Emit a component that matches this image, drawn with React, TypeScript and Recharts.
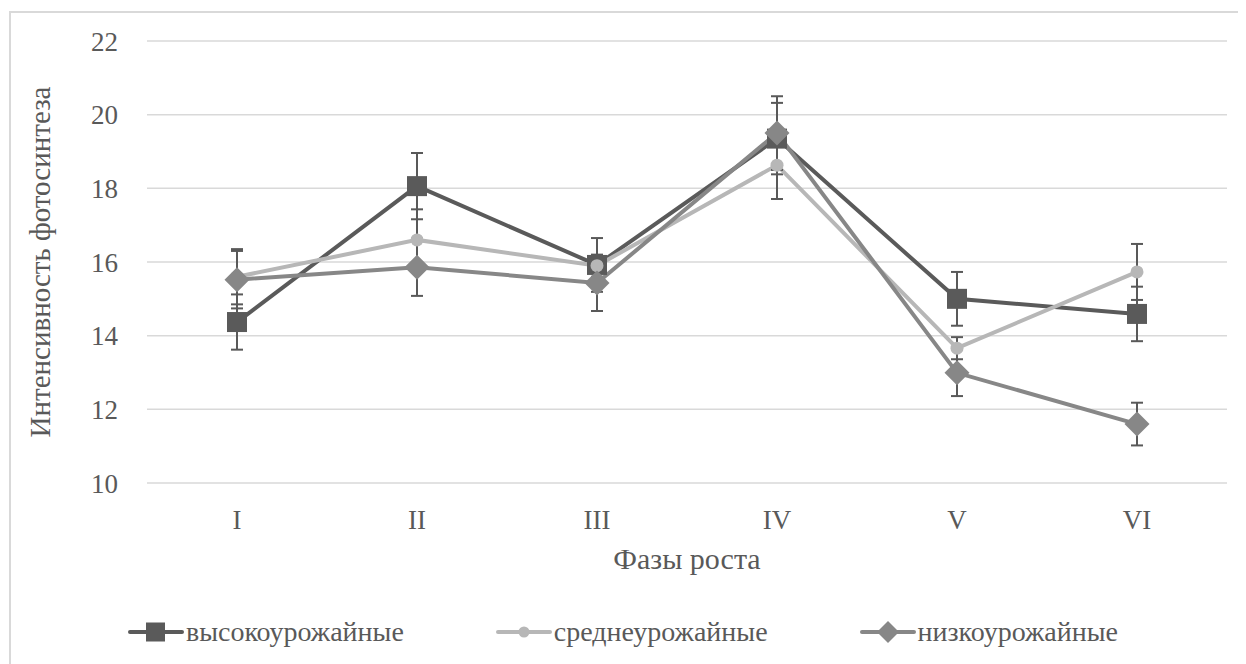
import React from "react";
import { LineChart, Line, XAxis, YAxis, CartesianGrid, ErrorBar, Legend } from "recharts";

// growth phases on the x axis
const phases = ["I", "II", "III", "IV", "V", "VI"];

// photosynthesis intensity per group
const highYield = [14.37, 18.06, 15.92, 19.35, 15.0, 14.59];
const midYield = [15.6, 16.6, 15.9, 18.63, 13.66, 15.73];
const lowYield = [15.52, 15.86, 15.43, 19.5, 12.99, 11.6];

// error bar half-lengths
const highErr = [0.75, 0.9, 0.73, 0.97, 0.73, 0.74];
const midErr = [0.75, 0.83, 0.3, 0.92, 0.3, 0.76];
const lowErr = [0.78, 0.78, 0.76, 1.0, 0.63, 0.58];

const seriesNames = ["высокоурожайные", "среднеурожайные", "низкоурожайные"];
const yTicks = [10, 12, 14, 16, 18, 20, 22];

const HIGH = "#5a5a5a";
const MID = "#b7b7b7";
const LOW = "#878787";
const TEXT = "#595959";
const FONT = "'Liberation Serif', serif";

const data = phases.map((phase, i) => ({
  phase,
  high: highYield[i],
  highErr: highErr[i],
  mid: midYield[i],
  midErr: midErr[i],
  low: lowYield[i],
  lowErr: lowErr[i],
}));

const SquareDot = (props: any) => {
  const { cx, cy, index } = props;
  if (cx == null || cy == null) return null;
  return <rect key={`sq-${index}`} x={cx - 10} y={cy - 10} width={20} height={20} fill={HIGH} />;
};

const CircleDot = (props: any) => {
  const { cx, cy, index } = props;
  if (cx == null || cy == null) return null;
  return <circle key={`ci-${index}`} cx={cx} cy={cy} r={6.5} fill={MID} />;
};

const DiamondDot = (props: any) => {
  const { cx, cy, index } = props;
  if (cx == null || cy == null) return null;
  const d = 12.5;
  return (
    <polygon
      key={`di-${index}`}
      points={`${cx},${cy - d} ${cx + d},${cy} ${cx},${cy + d} ${cx - d},${cy}`}
      fill={LOW}
    />
  );
};

const legendMarkers = [
  { color: HIGH, shape: "square" },
  { color: MID, shape: "circle" },
  { color: LOW, shape: "diamond" },
];

const renderLegend = () => (
  <div style={{ display: "flex", justifyContent: "center", alignItems: "center", gap: 92, fontFamily: FONT, fontSize: 28, color: TEXT }}>
    {seriesNames.map((name, i) => {
      const m = legendMarkers[i];
      return (
        <div key={name} style={{ display: "flex", alignItems: "center" }}>
          <svg width={56} height={24}>
            <line x1={2} y1={12} x2={54} y2={12} stroke={m.color} strokeWidth={4} strokeLinecap="round" />
            {m.shape === "square" && <rect x={18} y={2.5} width={19} height={19} fill={m.color} />}
            {m.shape === "circle" && <circle cx={28} cy={12} r={5.5} fill={m.color} />}
            {m.shape === "diamond" && <polygon points="28,1 39,12 28,23 17,12" fill={m.color} />}
          </svg>
          <span style={{ marginLeft: 2 }}>{name}</span>
        </div>
      );
    })}
  </div>
);

export default function App() {
  return (
    <div style={{ position: "relative", width: 1238, height: 656, overflow: "hidden" }}>
      <div
        style={{
          position: "absolute",
          left: 1,
          top: 3,
          width: 1300,
          height: 700,
          border: "2px solid #d9d9d9",
          boxSizing: "border-box",
        }}
      />
      <div style={{ position: "absolute", left: -8, top: -8 }}>
        <LineChart width={1246} height={664} data={data} margin={{ top: 41, right: 19, left: 10, bottom: 81 }}>
          <CartesianGrid vertical={false} stroke="#d9d9d9" strokeWidth={1.5} />
          <XAxis
            dataKey="phase"
            axisLine={false}
            tickLine={false}
            tickSize={0}
            tickMargin={27}
            height={100}
            padding={{ left: 90, right: 90 }}
            tick={{ fill: TEXT, fontSize: 27, fontFamily: FONT }}
            label={{ value: "Фазы роста", position: "insideBottom", offset: 14, fill: TEXT, fontSize: 30, fontFamily: FONT }}
          />
          <YAxis
            domain={[10, 22]}
            ticks={yTicks}
            axisLine={false}
            tickLine={false}
            tickSize={0}
            tickMargin={29}
            width={137}
            tick={{ fill: TEXT, fontSize: 27, fontFamily: FONT }}
            label={{
              value: "Интенсивность фотосинтеза",
              angle: -90,
              position: "insideLeft",
              offset: 30,
              fill: TEXT,
              fontSize: 29,
              fontFamily: FONT,
              style: { textAnchor: "middle" },
            }}
          />
          <Legend
            layout="horizontal"
            verticalAlign="middle"
            align="center"
            content={renderLegend}
            wrapperStyle={{ top: 616, left: 0, width: 1246 }}
          />
          <Line dataKey="high" name={seriesNames[0]} stroke={HIGH} strokeWidth={4} dot={SquareDot} activeDot={false} isAnimationActive={false}>
            <ErrorBar dataKey="highErr" direction="y" width={6} stroke={TEXT} strokeWidth={2} isAnimationActive={false} />
          </Line>
          <Line dataKey="mid" name={seriesNames[1]} stroke={MID} strokeWidth={4} dot={CircleDot} activeDot={false} isAnimationActive={false}>
            <ErrorBar dataKey="midErr" direction="y" width={6} stroke={TEXT} strokeWidth={2} isAnimationActive={false} />
          </Line>
          <Line dataKey="low" name={seriesNames[2]} stroke={LOW} strokeWidth={4} dot={DiamondDot} activeDot={false} isAnimationActive={false}>
            <ErrorBar dataKey="lowErr" direction="y" width={6} stroke={TEXT} strokeWidth={2} isAnimationActive={false} />
          </Line>
        </LineChart>
      </div>
    </div>
  );
}
